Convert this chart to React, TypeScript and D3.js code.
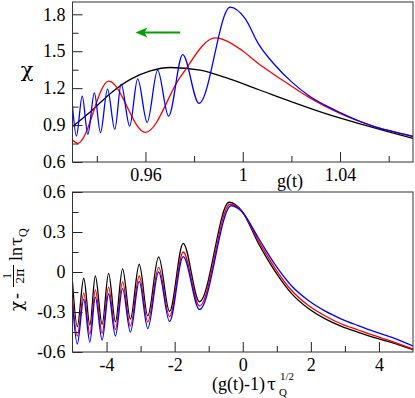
import React, { useRef, useEffect } from "react";
import * as d3 from "d3";

// ---- top panel: chi vs g(t) ----
const topBlack: [number, number][] = [
  [0.930, 0.888], [0.9374, 1.008], [0.9456, 1.157], [0.9538, 1.271], [0.9620, 1.340],
  [0.9702, 1.368], [0.9825, 1.346], [0.9928, 1.287], [1.0064, 1.189], [1.0201, 1.089],
  [1.0338, 0.995], [1.0475, 0.914], [1.0612, 0.838], [1.0700, 0.792],
];
const topRed: [number, number][] = [
  [0.930, 0.778], [0.9322, 0.752], [0.9449, 1.257], [0.9600, 0.841], [0.9743, 1.289],
  [0.9887, 1.608], [0.9928, 1.589], [0.9996, 1.508], [1.0064, 1.400], [1.0133, 1.305],
  [1.0201, 1.216], [1.0269, 1.129], [1.0338, 1.054], [1.0407, 0.989], [1.0543, 0.888],
  [1.0700, 0.807],
];
const topBlue: [number, number][] = [
  [0.930, 1.054], [0.9316, 0.811], [0.9340, 1.135], [0.9363, 0.825], [0.9390, 1.162],
  [0.9415, 0.838], [0.9444, 1.192], [0.9474, 0.865], [0.9500, 1.232], [0.9535, 0.892],
  [0.9568, 1.275], [0.9607, 0.922], [0.9650, 1.346], [0.9695, 0.973], [0.9753, 1.473],
  [0.9820, 1.076], [0.9948, 1.859], [1.0010, 1.765], [1.0064, 1.562], [1.0133, 1.386],
  [1.0201, 1.251], [1.0269, 1.143], [1.0338, 1.062], [1.0407, 0.995], [1.0475, 0.935],
  [1.0543, 0.886], [1.0612, 0.850], [1.0700, 0.808],
];

// ---- bottom panel: scaled chi vs scaled g ----
const botBlack: [number, number][] = [
  [-5.0, -0.073], [-4.86, -0.410], [-4.67, -0.047], [-4.49, -0.398], [-4.33, -0.030],
  [-4.13, -0.392], [-3.94, -0.010], [-3.74, -0.373], [-3.53, 0.023], [-3.30, -0.353],
  [-3.04, 0.058], [-2.79, -0.328], [-2.47, 0.113], [-2.15, -0.296], [-1.75, 0.215],
  [-1.27, -0.223], [-0.40, 0.523], [-0.03, 0.458], [0.46, 0.215], [0.95, 0.005],
  [1.43, -0.160], [1.92, -0.272], [2.41, -0.350], [2.90, -0.408], [3.39, -0.452],
  [3.87, -0.492], [4.36, -0.528], [5.0, -0.582],
];
const botRed: [number, number][] = [
  [-5.0, -0.188], [-4.86, -0.480], [-4.67, -0.158], [-4.49, -0.465], [-4.33, -0.135],
  [-4.13, -0.458], [-3.94, -0.113], [-3.74, -0.431], [-3.53, -0.075], [-3.30, -0.405],
  [-3.04, -0.030], [-2.79, -0.375], [-2.47, 0.034], [-2.15, -0.334], [-1.75, 0.150],
  [-1.27, -0.255], [-0.37, 0.508], [-0.03, 0.458], [0.46, 0.235], [0.95, 0.028],
  [1.43, -0.137], [1.92, -0.250], [2.41, -0.328], [2.90, -0.390], [3.39, -0.435],
  [3.87, -0.478], [4.36, -0.518], [5.0, -0.578],
];
const botBlue: [number, number][] = [
  [-5.0, -0.235], [-4.86, -0.540], [-4.67, -0.206], [-4.49, -0.525], [-4.33, -0.188],
  [-4.13, -0.510], [-3.94, -0.165], [-3.74, -0.480], [-3.53, -0.124], [-3.30, -0.450],
  [-3.04, -0.071], [-2.79, -0.424], [-2.47, 0.000], [-2.15, -0.371], [-1.75, 0.115],
  [-1.27, -0.281], [-0.34, 0.497], [-0.03, 0.454], [0.46, 0.255], [0.95, 0.055],
  [1.43, -0.103], [1.92, -0.212], [2.41, -0.292], [2.90, -0.353], [3.39, -0.402],
  [3.87, -0.447], [4.36, -0.488], [5.0, -0.555],
];

const topXTicks = [0.96, 1, 1.04];
const topXMinor = [0.94, 0.98, 1.02, 1.06];
const topYTicks = [0.6, 0.9, 1.2, 1.5, 1.8];
const topYMinor = [0.75, 1.05, 1.35, 1.65];
const botXTicks = [-4, -2, 0, 2, 4];
const botXMinor = [-3, -1, 1, 3];
const botYTicks = [-0.6, -0.3, 0, 0.3, 0.6];
const botYMinor = [-0.45, -0.15, 0.15, 0.45];

// green arrow in top panel (tail -> tip), data coords
const arrowFrom: [number, number] = [0.9743, 1.652];
const arrowTo: [number, number] = [0.9559, 1.652];

const FONT = "Liberation Serif, Times New Roman, serif";
const GREEK = "DejaVu Serif, serif"; // greek glyphs with a real serif chi/tau

function App() {
  const svgRef = useRef<SVGSVGElement>(null);
  const width = 415;
  const height = 398;

  useEffect(() => {
    const svg = d3.select(svgRef.current);
    svg.selectAll("*").remove();

    function panel(cfg: any) {
      const { left, right, top, bottom, xDomain, yDomain, series, xTicks, xMinor, yTicks, yMinor, id } = cfg;
      const x = d3.scaleLinear().domain(xDomain).range([left, right]);
      const y = d3.scaleLinear().domain(yDomain).range([bottom, top]);

      svg.append("clipPath").attr("id", id)
        .append("rect")
        .attr("x", left).attr("y", top)
        .attr("width", right - left).attr("height", bottom - top);

      const line = d3.line<[number, number]>()
        .x(d => x(d[0]))
        .y(d => y(d[1]))
        .curve(d3.curveMonotoneX);

      const g = svg.append("g").attr("clip-path", `url(#${id})`);
      series.forEach((s: any) => {
        g.append("path")
          .attr("d", line(s.data))
          .attr("fill", "none")
          .attr("stroke", s.color)
          .attr("stroke-width", 1.3);
      });

      // major / minor ticks, pointing inward
      const axisStyle = (a: any) => {
        a.attr("font-family", FONT).attr("font-size", 18);
        a.select(".domain").remove();
        a.selectAll("text")
          .style("font-family", FONT)
          .style("font-size", "18px")
          .attr("fill", "#000");
        a.selectAll("line").attr("stroke", "#222");
      };
      svg.append("g")
        .attr("transform", `translate(0,${bottom})`)
        .call(d3.axisBottom(x).tickValues(xTicks).tickSize(-10).tickPadding(6).tickFormat(cfg.xFmt))
        .call(axisStyle);
      svg.append("g")
        .attr("transform", `translate(0,${bottom})`)
        .call(d3.axisBottom(x).tickValues(xMinor).tickSize(-6).tickFormat(() => ""))
        .call(axisStyle);
      svg.append("g")
        .attr("transform", `translate(${left},0)`)
        .call(d3.axisLeft(y).tickValues(yTicks).tickSize(-10).tickPadding(7).tickFormat(cfg.yFmt))
        .call(axisStyle);
      svg.append("g")
        .attr("transform", `translate(${left},0)`)
        .call(d3.axisLeft(y).tickValues(yMinor).tickSize(-6).tickFormat(() => ""))
        .call(axisStyle);

      svg.append("rect")
        .attr("x", left).attr("y", top)
        .attr("width", right - left).attr("height", bottom - top)
        .attr("fill", "none").attr("stroke", "#333").attr("stroke-width", 1);

      return { x, y };
    }

    const t = panel({
      id: "clipTop", left: 72.5, right: 413, top: 2, bottom: 162,
      xDomain: [0.93, 1.07], yDomain: [0.6, 1.9],
      series: [
        { data: topBlack, color: "#000000" },
        { data: topRed, color: "#ff0000" },
        { data: topBlue, color: "#0000ff" },
      ],
      xTicks: topXTicks, xMinor: topXMinor, yTicks: topYTicks, yMinor: topYMinor,
      xFmt: (d: number) => (d === 1 ? "1" : d3.format(".2f")(d)),
      yFmt: d3.format(".1f"),
    });

    panel({
      id: "clipBot", left: 72.5, right: 413, top: 192, bottom: 352,
      xDomain: [-5, 5], yDomain: [-0.6, 0.6],
      series: [
        { data: botBlack, color: "#000000" },
        { data: botRed, color: "#ff0000" },
        { data: botBlue, color: "#0000ff" },
      ],
      xTicks: botXTicks, xMinor: botXMinor, yTicks: botYTicks, yMinor: botYMinor,
      xFmt: (d: number) => String(d).replace("−", "-"),
      yFmt: (d: number) => (d === 0 ? "0" : d3.format(".1f")(d).replace("−", "-")),
    });

    // green arrow
    const ax0 = t.x(arrowFrom[0]), ay = t.y(arrowFrom[1]);
    const ax1 = t.x(arrowTo[0]);
    svg.append("line")
      .attr("x1", ax0).attr("x2", ax1 + 8).attr("y1", ay).attr("y2", ay)
      .attr("stroke", "#00a000").attr("stroke-width", 2);
    svg.append("path")
      .attr("d", `M${ax1},${ay} L${ax1 + 12},${ay - 5} L${ax1 + 9},${ay} L${ax1 + 12},${ay + 5} Z`)
      .attr("fill", "#00a000");

    // axis titles
    svg.append("text")
      .attr("x", 290).attr("y", 187)
      .attr("text-anchor", "middle")
      .style("font-family", FONT).style("font-size", "18px")
      .text("g(t)");

    svg.append("text")
      .attr("x", 27).attr("y", 77)
      .attr("text-anchor", "middle")
      .style("font-family", GREEK).style("font-size", "21px")
      .text("χ");

    const xl = svg.append("g").style("font-family", FONT);
    xl.append("text").attr("x", 212).attr("y", 390).style("font-size", "18px").text("(g(t)-1)");
    xl.append("text").attr("x", 267).attr("y", 390).style("font-family", GREEK).style("font-size", "16px").text("τ");
    xl.append("text").attr("x", 280).attr("y", 380).style("font-size", "11px").text("1/2");
    xl.append("text").attr("x", 279).attr("y", 396).style("font-size", "11px").text("Q");

    const yl = svg.append("g")
      .attr("transform", "translate(22,262) rotate(-90)")
      .style("font-family", FONT);
    yl.append("text").attr("x", -49).attr("y", 0).style("font-family", GREEK).style("font-size", "17px").text("χ");
    yl.append("text").attr("x", -37).attr("y", 0).style("font-size", "18px").text("-");
    yl.append("text").attr("x", -14).attr("y", -11).attr("text-anchor", "middle").style("font-size", "13px").text("1");
    yl.append("line").attr("x1", -25).attr("x2", -3).attr("y1", -8.5).attr("y2", -8.5)
      .attr("stroke", "#000").attr("stroke-width", 1);
    yl.append("text").attr("x", -14).attr("y", 2).attr("text-anchor", "middle").style("font-size", "13px")
      .selectAll("tspan").data(["2", "π"]).join("tspan")
      .style("font-family", (d: string) => (d === "π" ? GREEK : FONT))
      .text((d: string) => d);
    yl.append("text").attr("x", 1).attr("y", 0).style("font-size", "18px").text("ln");
    yl.append("text").attr("x", 16).attr("y", 0).style("font-family", GREEK).style("font-size", "16px").text("τ");
    yl.append("text").attr("x", 25).attr("y", 5).style("font-size", "12px").text("Q");
  }, []);

  return (
    <div style={{ position: "absolute", left: 0, top: 0, background: "#fff" }}>
      <svg ref={svgRef} width={width} height={height}></svg>
    </div>
  );
}

export default App;
